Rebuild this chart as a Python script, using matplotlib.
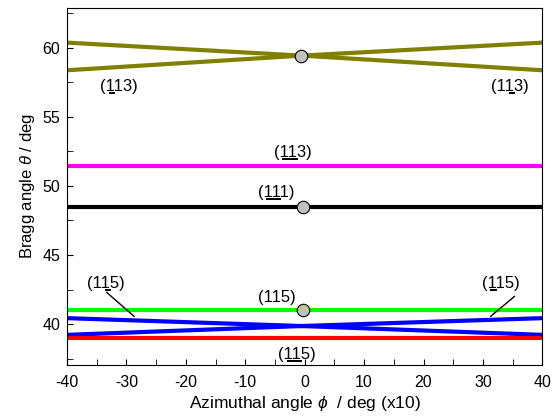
import matplotlib.pyplot as plt
from matplotlib.ticker import MultipleLocator
from matplotlib.font_manager import FontProperties, findfont
from matplotlib.ft2font import FT2Font

plt.rcParams['font.family'] = ['Liberation Sans', 'DejaVu Sans']
plt.rcParams['mathtext.fontset'] = 'custom'
plt.rcParams['mathtext.rm'] = 'Liberation Sans'
plt.rcParams['mathtext.it'] = 'Liberation Sans:italic'
plt.rcParams['axes.unicode_minus'] = False

# reflection curves: azimuth (x10 deg) vs Bragg angle
phi_ends = [-40, -0.5, 40]
olive_a = [60.36, 59.42, 58.36]
olive_b = [58.36, 59.42, 60.36]
blue_a = [40.43, 39.86, 39.22]
blue_b = [39.22, 39.86, 40.43]
phi_flat = [-40, 40]
magenta = [51.45, 51.45]
black = [48.48, 48.48]
green = [41.02, 41.02]
red = [38.98, 38.98]

# grey markers where the curves meet the symmetric position
dot_phi = [-0.7, -0.2, -0.2]
dot_theta = [59.42, 48.48, 41.02]

# Miller index labels: text, x, y, (first, last) underlined characters
labels = ['(113)', '(113)', '(113)', '(111)', '(115)', '(115)', '(115)', '(115)']
label_x = [-31.2, 34.6, -2.0, -4.8, -33.4, 33.0, -4.6, -1.3]
label_y = [57.26, 57.26, 52.5, 49.66, 43.05, 43.05, 42.04, 37.9]
label_bar = [(1, 2), (2, 3), (1, 3), (1, 3), (2, 3), (1, 2), None, (1, 3)]

fig, ax = plt.subplots(figsize=(5.58, 4.17), dpi=100)
fig.subplots_adjust(left=0.12, right=0.972, top=0.982, bottom=0.125)

lw = 3.0
ax.plot(phi_ends, olive_a, color='#808000', lw=lw)
ax.plot(phi_ends, olive_b, color='#808000', lw=lw)
ax.plot(phi_flat, magenta, color='#ff00ff', lw=lw)
ax.plot(phi_flat, black, color='black', lw=lw)
ax.plot(phi_flat, green, color='#00ff00', lw=lw)
ax.plot(phi_ends, blue_a, color='#0000ff', lw=lw)
ax.plot(phi_ends, blue_b, color='#0000ff', lw=lw)
ax.plot(phi_flat, red, color='#ff0000', lw=lw)
ax.plot(dot_phi, dot_theta, 'o', ms=9, mfc='#c0c0c0', mec='black', mew=0.8, zorder=5)

# leader lines to the blue pair
ax.plot([-33.3, -28.7], [42.29, 40.56], color='black', lw=1)
ax.plot([35.3, 31.3], [42.0, 40.56], color='black', lw=1)

ax.set_xlim(-40, 40)
ax.set_ylim(37.05, 62.9)
ax.xaxis.set_major_locator(MultipleLocator(10))
ax.xaxis.set_minor_locator(MultipleLocator(5))
ax.yaxis.set_major_locator(MultipleLocator(5))
ax.yaxis.set_minor_locator(MultipleLocator(2.5))
ax.tick_params(which='both', direction='in', top=False, right=False, labelsize=11.5, length=4)
ax.tick_params(axis='x', which='both', pad=7)
ax.tick_params(axis='y', which='both', pad=5)

ax.set_xlabel(r'Azimuthal angle $\phi$  / deg (x10)', fontsize=12.5, labelpad=3)
ax.set_ylabel(r'Bragg angle $\theta$ / deg', fontsize=12, labelpad=4)

fs = 12
dpi = 100
prop = FontProperties(family='Liberation Sans', size=fs)
font = FT2Font(findfont(prop))
font.set_size(fs, dpi)


def advance(c):
    return font.load_char(ord(c)).linearHoriAdvance / 65536


# mathtext has no \underline, so bars under the negative indices are drawn by hand
cap = 0.716 * fs * dpi / 72
inv = ax.transData.inverted()
for s, x, y, bar in zip(labels, label_x, label_y, label_bar):
    cx, cy = ax.transData.transform((x, y))
    base = cy - cap / 2
    tx, ty = inv.transform((cx, base))
    ax.text(tx, ty, s, ha='center', va='baseline', fontproperties=prop)
    if bar is None:
        continue
    left = cx - sum(advance(c) for c in s) / 2
    x0 = left + sum(advance(c) for c in s[:bar[0]]) + 3.5
    x1 = left + sum(advance(c) for c in s[:bar[1]]) + 0.5
    yb = base - 2.0
    (dx0, dy), (dx1, _) = inv.transform([(x0, yb), (x1, yb)])
    ax.plot([dx0, dx1], [dy, dy], color='black', lw=1.4, solid_capstyle='butt')

fig.savefig('out.png', dpi=dpi)
